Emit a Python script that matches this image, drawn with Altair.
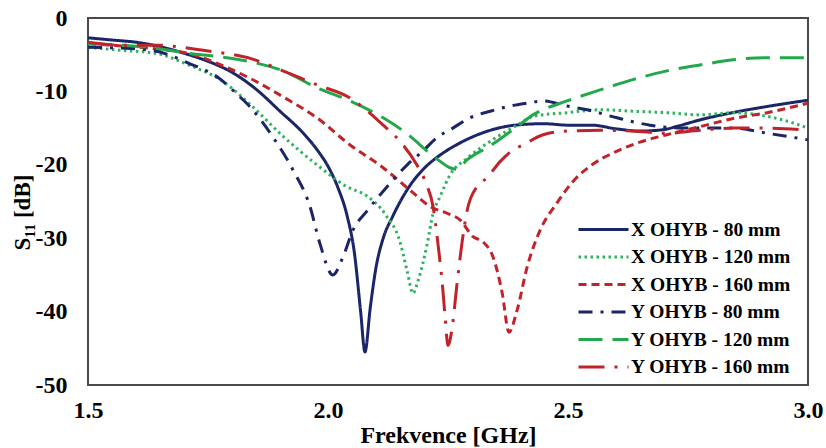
import altair as alt
import pandas as pd

series_names = ["X OHYB - 80 mm", "X OHYB - 120 mm", "X OHYB - 160 mm",
                "Y OHYB - 80 mm", "Y OHYB - 120 mm", "Y OHYB - 160 mm"]
series_colors = ["#1b2569", "#2fb35e", "#c1232a", "#1b2569", "#22a84a", "#c1232a"]
series_dashes = [[1, 0], [2.5, 3.5], [8, 5], [14, 8, 3, 8], [24, 10], [26, 10, 3, 10]]

x80_f = [1.5, 1.55, 1.6, 1.65, 1.7, 1.75, 1.8, 1.85, 1.9, 1.95, 1.98, 2.0, 2.02, 2.04, 2.055, 2.068,
         2.077, 2.088, 2.1, 2.115, 2.135, 2.171, 2.2, 2.233, 2.27, 2.32, 2.39, 2.45, 2.5, 2.55, 2.6,
         2.65, 2.7, 2.73, 2.78, 2.85, 2.92, 3.0]
x80_s = [-2.7, -3.0, -3.3, -3.9, -4.8, -5.9, -7.4, -9.7, -12.7, -15.8, -18.2, -20.2, -23.0, -27.0, -32.0, -40.0,
         -45.5, -39.5, -34.0, -30.0, -27.0, -22.8, -20.5, -18.7, -17.2, -15.7, -14.6, -14.4, -14.6, -14.6, -15.1,
         -15.4, -15.2, -14.7, -13.8, -12.8, -12.0, -11.2]

x120_f = [1.5, 1.57, 1.64, 1.71, 1.78, 1.84, 1.906, 1.977, 2.04, 2.08, 2.12, 2.15, 2.165, 2.177,
          2.188, 2.206, 2.219, 2.233, 2.254, 2.29, 2.338, 2.394, 2.427, 2.498, 2.567, 2.635,
          2.706, 2.775, 2.844, 2.915, 2.969, 3.0]
x120_s = [-4.0, -4.4, -4.8, -6.4, -8.6, -11.9, -16.1, -20.0, -23.0, -24.2, -26.8, -30.5, -34.5, -37.5,
          -35.7, -31.0, -26.6, -24.4, -21.4, -19.1, -16.8, -14.6, -13.4, -12.9, -12.5, -12.7,
          -12.9, -13.2, -12.9, -13.4, -14.3, -15.0]

x160_f = [1.5, 1.569, 1.64, 1.708, 1.777, 1.84, 1.908, 1.977, 2.046, 2.115, 2.177, 2.213, 2.248,
          2.275, 2.302, 2.323, 2.344, 2.363, 2.377, 2.394, 2.415, 2.442, 2.477, 2.51, 2.55,
          2.6, 2.65, 2.706, 2.775, 2.844, 2.915, 3.0]
x160_s = [-3.5, -3.8, -4.2, -4.8, -6.4, -8.3, -10.8, -13.6, -17.3, -20.4, -23.8, -25.7, -26.6,
          -27.5, -29.8, -30.5, -32.6, -37.5, -42.8, -39.8, -33.9, -28.9, -25.2, -22.3, -20.0,
          -18.2, -16.9, -15.9, -14.8, -13.7, -12.9, -11.6]

y80_f = [1.5, 1.569, 1.64, 1.708, 1.777, 1.8125, 1.8375, 1.885, 1.927, 1.9625, 1.983, 2.01,
         2.031, 2.052, 2.081, 2.115, 2.165, 2.198, 2.227, 2.26, 2.296, 2.338, 2.379, 2.415,
         2.448, 2.498, 2.54, 2.602, 2.671, 2.74, 2.844, 2.915, 3.0]
y80_s = [-4.0, -4.1, -4.5, -6.1, -8.4, -10.5, -12.1, -16.2, -20.7, -25.7, -30.7, -35.0,
         -32.6, -28.9, -26.3, -23.6, -20.0, -18.1, -16.3, -15.0, -13.6, -12.7, -12.0, -11.6,
         -11.3, -12.0, -12.5, -13.6, -14.6, -15.0, -15.0, -15.7, -16.6]

y120_f = [1.5, 1.569, 1.64, 1.708, 1.777, 1.848, 1.906, 1.977, 2.046, 2.115, 2.171, 2.206,
          2.233, 2.254, 2.269, 2.29, 2.338, 2.394, 2.427, 2.498, 2.567, 2.635, 2.706, 2.775,
          2.844, 2.915, 3.0]
y120_s = [-3.5, -3.7, -4.1, -4.8, -5.3, -6.1, -7.2, -9.5, -11.3, -13.6, -16.1, -18.1,
          -19.5, -20.4, -20.6, -19.3, -17.4, -14.8, -13.2, -11.3, -9.8, -8.4, -7.2, -6.4,
          -5.7, -5.4, -5.4]

y160_f = [1.5, 1.569, 1.64, 1.74, 1.848, 1.906, 1.977, 2.046, 2.115, 2.15, 2.185, 2.206,
          2.219, 2.229, 2.238, 2.244, 2.25, 2.258, 2.269, 2.279, 2.29, 2.31, 2.331, 2.358,
          2.385, 2.406, 2.448, 2.498, 2.567, 2.635, 2.706, 2.775, 2.844, 2.915, 3.0]
y160_s = [-3.3, -3.7, -3.7, -4.4, -5.7, -7.2, -9.1, -10.9, -14.6, -16.8, -20.0, -22.8,
          -25.7, -30.7, -36.1, -40.7, -44.6, -42.5, -36.1, -30.7, -26.2, -23.0, -21.8, -19.6,
          -18.0, -17.3, -15.9, -15.4, -15.3, -15.4, -15.7, -15.3, -15.0, -15.0, -15.3]

all_f = [x80_f, x120_f, x160_f, y80_f, y120_f, y160_f]
all_s = [x80_s, x120_s, x160_s, y80_s, y120_s, y160_s]

rows = []
for name, fs, ss in zip(series_names, all_f, all_s):
    for f, s in zip(fs, ss):
        rows.append({"series": name, "f": f, "s": s})
df = pd.DataFrame(rows)

FONT = "Liberation Serif"

legend = alt.Legend(
    title=None, orient="none", legendX=504, legendY=200,
    symbolType="M-2.5,0H2.5", symbolSize=400, symbolStrokeWidth=3,
    labelFont=FONT, labelFontSize=19.5, labelFontWeight="bold", labelColor="#000000",
    labelOffset=16, rowPadding=6.5, padding=0, labelLimit=400,
)

chart = alt.Chart(df).mark_line(strokeWidth=3, interpolate="monotone", clip=True).encode(
    x=alt.X("f:Q", scale=alt.Scale(domain=[1.5, 3.0], nice=False, zero=False),
            axis=alt.Axis(values=[1.5, 2.0, 2.5, 3.0], format=".1f", title="Frekvence [GHz]",
                          grid=False, ticks=False, domain=False, labelPadding=13,
                          labelFont=FONT, labelFontSize=24, labelFontWeight="bold",
                          labelColor="#000000", titleFont=FONT, titleFontSize=24,
                          titleFontWeight="bold", titleColor="#000000", titlePadding=1,
                          labelOverlap=False, labelFlush=False)),
    y=alt.Y("s:Q", scale=alt.Scale(domain=[-50, 0], nice=False, zero=False),
            axis=alt.Axis(values=[0, -10, -20, -30, -40, -50], labelExpr="'' + datum.value",
                          title="S\u2081\u2081 [dB]", grid=False, ticks=False, domain=False,
                          labelPadding=21, labelFont=FONT, labelFontSize=24,
                          labelFontWeight="bold", labelColor="#000000", titleFont=FONT,
                          titleFontSize=23, titleFontWeight="bold", titleColor="#000000",
                          titleX=-66, titleY=194, titleAngle=270, titleAlign="center",
                          titleBaseline="middle", labelOverlap=False, labelFlush=False)),
    color=alt.Color("series:N", scale=alt.Scale(domain=series_names, range=series_colors),
                    legend=legend),
    strokeDash=alt.StrokeDash("series:N", scale=alt.Scale(domain=series_names, range=series_dashes),
                              legend=legend),
).properties(
    width=720, height=367,
    autosize=alt.AutoSizeParams(type="none"),
    padding={"left": 88, "top": 18, "right": 18, "bottom": 63},
    background="#ffffff",
).configure_view(stroke="#4a4a4a", strokeWidth=2)

chart.save("out.html", embed_options={"renderer": "svg", "actions": False})
